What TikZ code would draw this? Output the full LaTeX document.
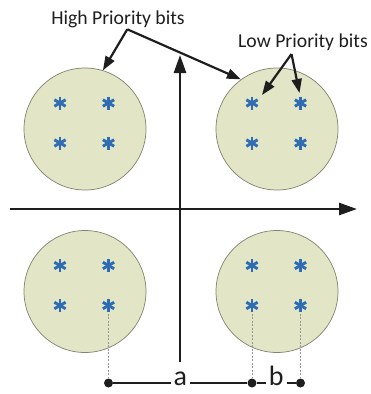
\documentclass[tikz,border=0pt]{standalone}
\usepackage{fontspec}
\setmainfont{Carlito}
\usetikzlibrary{arrows.meta}
\definecolor{discfill}{RGB}{226,229,198}
\definecolor{discline}{RGB}{130,130,110}
\definecolor{astblue}{RGB}{46,108,180}
\definecolor{guidegray}{RGB}{150,150,150}
\definecolor{inkgray}{RGB}{30,30,30}
\begin{document}
\begin{tikzpicture}[x=1bp,y=-1bp,
  disc/.style={circle, draw=discline, line width=0.7bp, fill=discfill, minimum size=122bp, inner sep=0pt},
  ast/.style={inner sep=0pt, minimum size=16bp,
    path picture={
      \foreach \ang in {90,30,150}{
        \draw[astblue, line width=2.9bp]
          ([shift={(\ang:6.5bp)}]path picture bounding box.center) --
          ([shift={(\ang+180:6.5bp)}]path picture bounding box.center);
      }}},
  axisline/.style={line width=2.6bp, draw=inkgray, -{Triangle[length=18bp,width=12bp]}},
  callout/.style={line width=2.2bp, draw=inkgray, -{Triangle[length=14bp,width=10bp]}},
  lab/.style={font=\fontsize{19.7bp}{23bp}\selectfont, text=inkgray, inner sep=0pt},
  dimlab/.style={font=\fontsize{28bp}{32bp}\selectfont, text=inkgray, fill=white, inner xsep=3bp, inner ysep=1bp, text height=1ex, text depth=0pt},
  dimline/.style={line width=2.1bp, draw=inkgray},
  dot/.style={circle, fill=inkgray, inner sep=0pt, minimum size=9bp},
  guide/.style={draw=guidegray, dash pattern=on 2bp off 1.5bp, line width=0.8bp}
]
\useasboundingbox (0,0) rectangle (371,394);

% discs with four points each
\foreach \c/\x/\y in {1/85/129,2/277/129,3/85/291.5,4/277/291.5}{
  \node[disc] (c\c) at (\x,\y) {};
  \node[ast] (s\c1) at (\x-25,\y-26) {};
  \node[ast] (s\c2) at (\x+23.5,\y-26) {};
  \node[ast] (s\c3) at (\x-25,\y+14) {};
  \node[ast] (s\c4) at (\x+23.5,\y+14) {};
}

% axes
\coordinate (xl) at (10,209);
\coordinate (xr) at (357,209);
\coordinate (yb) at (180,362);
\coordinate (yt) at (180,55);
\draw[axisline] (xl) -- (xr);
\draw[axisline] (yb) -- (yt);

% callouts
\node[lab, anchor=base] (hp) at (118,24) {High Priority bits};
\coordinate (hpa) at (127.3,29.3);
\draw[callout] (hpa) -- (c1.73);
\draw[callout] (hpa) -- (c2.126);

\node[lab, anchor=base] (lp) at (303,47) {Low Priority bits};
\coordinate (lpa) at (291.5,54);
\draw[callout] (lpa) -- ([shift={(10bp,8bp)}]s21.center);
\draw[callout] (lpa) -- ([shift={(-1bp,10bp)}]s22.center);

% dimension line
\node[dot] (d1) at (108.5,383) {};
\node[dot] (d2) at (252,383) {};
\node[dot] (d3) at (300.5,383) {};
\draw[guide] (s34.south) -- (d1.north);
\draw[guide] (s43.south) -- (d2.north);
\draw[guide] (s44.south) -- (d3.north);
\draw[dimline] (d1) -- node[dimlab] (la) {a} (d2);
\draw[dimline] (d2) -- node[dimlab] (lb) {b} (d3);
\end{tikzpicture}
\end{document}
